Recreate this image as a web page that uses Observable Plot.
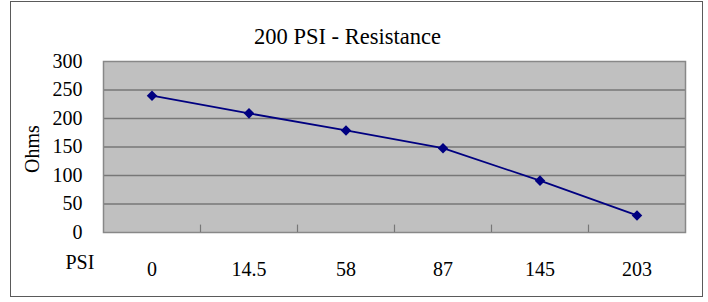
<!DOCTYPE html>
<html>
<head>
<meta charset="utf-8">
<script src="https://cdn.jsdelivr.net/npm/d3@7"></script>
<script src="https://cdn.jsdelivr.net/npm/@observablehq/plot@0.6"></script>
<style>
  html, body { margin: 0; padding: 0; background: #fff; }
  #wrap { position: relative; width: 708px; height: 302px; }
  #wrap svg, #wrap svg text { font-family: "Liberation Serif", "Times New Roman", serif !important; }
  #border { position: absolute; left: 10px; top: 1px; width: 693px; height: 296px; border: 1.5px solid #5a5a5a; pointer-events: none; box-sizing: border-box; }
</style>
</head>
<body>
<div id="wrap"><div id="border"></div></div>
<script>
const psiLabels = ["0", "14.5", "58", "87", "145", "203"];
const ohms = [240, 209, 179, 148, 91, 30];
const yTicks = [0, 50, 100, 150, 200, 250, 300];
const gridTicks = [50, 100, 150, 200, 250];

const data = psiLabels.map((p, i) => ({i, psi: p, ohms: ohms[i]}));
const bounds = psiLabels.slice(1).map((_, i) => i + 0.5);

const diamond = {
  draw(context, size) {
    const s = Math.sqrt(size / 2);
    context.moveTo(0, -s);
    context.lineTo(s, 0);
    context.lineTo(0, s);
    context.lineTo(-s, 0);
    context.closePath();
  }
};

const font = "Liberation Serif, Times New Roman, serif";

const chart = Plot.plot({
  width: 708,
  height: 302,
  marginLeft: 103,
  marginRight: 23,
  marginTop: 61,
  marginBottom: 70,
  style: {fontFamily: font, fontSize: "20px", color: "#000", background: "transparent"},
  x: {domain: [-0.5, psiLabels.length - 0.5]},
  y: {domain: [0, 300]},
  marks: [
    Plot.frame({fill: "#c0c0c0"}),
    Plot.ruleY(gridTicks, {stroke: "#777", strokeWidth: 1.3}),
    Plot.frame({stroke: "#888", strokeWidth: 1.5}),
    Plot.ruleX(bounds, {y1: 0, y2: 13, stroke: "#777", strokeWidth: 1.2}),
    Plot.axisY({ticks: yTicks, tickSize: 0, tickPadding: 21, label: null, fontSize: 20, fontFamily: font}),
    Plot.axisX({ticks: d3.range(psiLabels.length), tickFormat: i => psiLabels[i], tickSize: 0, tickPadding: 29, label: null, fontSize: 20, fontFamily: font}),
    Plot.line(data, {x: "i", y: "ohms", stroke: "#000080", strokeWidth: 1.8}),
    Plot.dot(data, {x: "i", y: "ohms", symbol: diamond, r: 4.2, fill: "#000080", stroke: "none"}),
    Plot.text(["200 PSI - Resistance"], {frameAnchor: "top", textAnchor: "middle", dx: -47, dy: -33, fontSize: 22.5, fontFamily: font, fill: "#000"}),
    Plot.text(["PSI"], {frameAnchor: "bottom-left", textAnchor: "start", dx: -38, dy: 36, fontSize: 20, fontFamily: font, fill: "#000"}),
    Plot.text(["Ohms"], {frameAnchor: "left", textAnchor: "middle", dx: -71, dy: 2, rotate: -90, fontSize: 20, fontFamily: font, fill: "#000"})
  ]
});

document.getElementById("wrap").prepend(chart);
chart.style.position = "absolute";
chart.style.left = "0";
chart.style.top = "0";
</script>
</body>
</html>
